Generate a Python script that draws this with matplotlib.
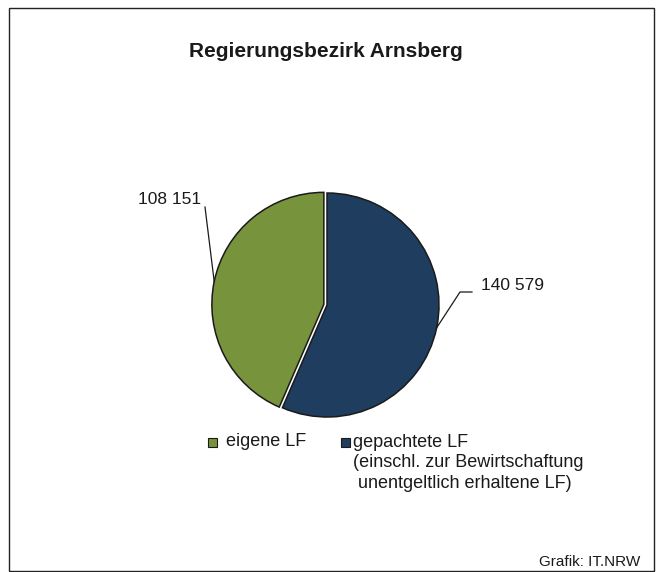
"""Pie chart: eigene vs. gepachtete LF, Regierungsbezirk Arnsberg."""

import numpy as np
import matplotlib

matplotlib.use("Agg", force=True)
import matplotlib.pyplot as plt
from matplotlib.patches import Rectangle

plt.rcParams["font.family"] = ["Liberation Sans", "DejaVu Sans"]

TITLE = "Regierungsbezirk Arnsberg"
CATEGORIES = [
    "gepachtete LF\n(einschl. zur Bewirtschaftung\n unentgeltlich erhaltene LF)",
    "eigene LF",
]
VALUES = [140579, 108151]
COLORS = ["#1F3D5E", "#77933C"]
VALUE_LABELS = ["140 579", "108 151"]
SOURCE = "Grafik: IT.NRW"

W, H = 660, 572
fig = plt.figure(figsize=(W / 100, H / 100), dpi=100)
ax = fig.add_axes([0, 0, 1, 1])


def py(y):
    # pixel row from top -> data y
    return H - y


center = (327, py(305))
radius = 112
# explode offset is in data units here (pixels), not a fraction of the radius
wedges, _ = ax.pie(
    VALUES,
    colors=COLORS,
    startangle=90,
    counterclock=False,
    explode=[0, 3.2],
    center=center,
    radius=radius,
    wedgeprops=dict(edgecolor="#1a1a1a", linewidth=1.1),
)
ax.set_xlim(0, W)
ax.set_ylim(0, H)
ax.set_aspect("equal")
ax.axis("off")

# frame around the whole graphic
ax.add_patch(Rectangle((9, py(571)), 645, 563, fill=False, edgecolor="#222222", linewidth=1.0))

ax.text(326, py(57), TITLE, ha="center", va="baseline", fontsize=15, fontweight="bold", color="#1a1a1a")


# value labels with leader lines from the middle of each wedge's arc
def arc_mid(w):
    ang = np.deg2rad((w.theta1 + w.theta2) / 2)
    cx, cy = w.center
    return cx + w.r * np.cos(ang), cy + w.r * np.sin(ang)


bx, by = arc_mid(wedges[0])
ax.plot([bx, 460, 472], [by, py(292), py(292)], color="#1a1a1a", linewidth=0.9)
ax.text(481, py(286), VALUE_LABELS[0], ha="left", va="center", fontsize=12.5, color="#1a1a1a")

gx, gy = arc_mid(wedges[1])
ax.plot([gx, 205], [gy, py(207)], color="#1a1a1a", linewidth=0.9)
ax.text(201, py(200), VALUE_LABELS[1], ha="right", va="center", fontsize=12.5, color="#1a1a1a")

# legend
sq = 9
ax.add_patch(Rectangle((208, py(447)), sq, sq, facecolor=COLORS[1], edgecolor="#1a1a1a", linewidth=0.8))
ax.text(226, py(442), CATEGORIES[1], ha="left", va="center", fontsize=13, color="#1a1a1a")
ax.add_patch(Rectangle((341, py(447)), sq, sq, facecolor=COLORS[0], edgecolor="#1a1a1a", linewidth=0.8))
ax.text(353, py(434), CATEGORIES[0], ha="left", va="top", fontsize=13, color="#1a1a1a", linespacing=1.25)

ax.text(640, py(562), SOURCE, ha="right", va="center", fontsize=11, color="#1a1a1a")

fig.savefig("out.png", dpi=100)
